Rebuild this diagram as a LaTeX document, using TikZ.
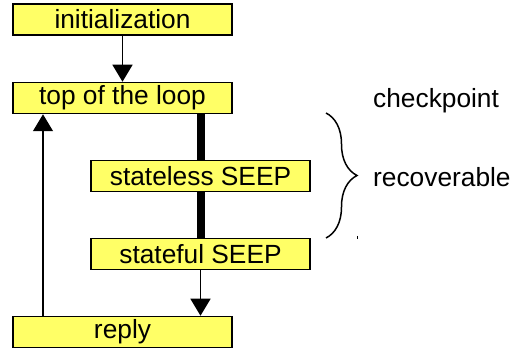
\documentclass[tikz,border=0pt]{standalone}
\usepackage{fontspec}
\setmainfont{Liberation Sans}
\usetikzlibrary{arrows.meta,decorations.pathreplacing}
\definecolor{boxfill}{HTML}{FFFF66}
\begin{document}
\begin{tikzpicture}[x=1pt,y=-1pt,
  stagebox/.style={draw=black,line width=1.5pt,fill=boxfill,minimum width=219pt,
    minimum height=31pt,inner sep=0pt,font=\fontsize{26.3}{29}\selectfont},
  flow/.style={line width=1.5pt,-{Triangle[width=20pt,length=17pt]}},
  bar/.style={line width=8pt},
  label/.style={anchor=west,inner sep=0pt,font=\fontsize{26.3}{29}\selectfont}]
\useasboundingbox (0,0) rectangle (522,352);
% boxes
\node[stagebox] (init) at (122.5,19.5) {initialization};
\node[stagebox] (top) at (122.5,98) {top of the loop};
\node[stagebox] (nostate) at (200.5,176) {stateless SEEP};
\node[stagebox] (state) at (200.5,254) {stateful SEEP};
\node[stagebox] (reply) at (122.5,332) {reply};
% thick links between the recoverable stages
\draw[bar] (top.south -| nostate.north) -- (nostate.north);
\draw[bar] (nostate.south) -- (state.north);
% control flow
\draw[flow] (init.south) -- (top.north);
\draw[flow] (state.south) -- (state.south |- reply.north);
\draw[flow] ([xshift=-79.5pt]reply.north) -- ([xshift=-79.5pt]top.south);
% brace and annotations
\coordinate (bt) at (326,113);
\coordinate (bb) at (326,238);
\draw[line width=1.5pt,decorate,decoration={brace,amplitude=31pt}] (bt) -- (bb);
\draw[line width=1pt] (357,236) -- (357,239);
\node[label] (ckpt) at (373,101) {checkpoint};
\node[label] (recov) at (373,177) {recoverable};
\end{tikzpicture}
\end{document}
